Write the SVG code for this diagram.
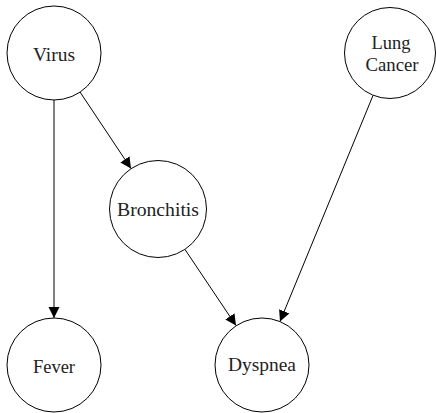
<svg xmlns="http://www.w3.org/2000/svg" width="436" height="413" viewBox="0 0 436 413">
  <style>
    .node circle { fill: #ffffff; stroke: #000000; stroke-width: 1; }
    .node text { font-family: 'Liberation Serif', 'Times New Roman', serif; font-size: 18px; fill: #222222; text-anchor: middle; }
    .edges line { stroke: #000000; stroke-width: 1; fill: none; marker-end: url(#arrow); }
  </style>
  <defs>
    <marker id="arrow" markerUnits="userSpaceOnUse" markerWidth="12" markerHeight="12" refX="11" refY="6" orient="auto">
      <path d="M0,0.5 L11,6 L0,11.5 Z" fill="#000000"/>
    </marker>
  </defs>

  <!-- directed edges between the nodes -->
  <g id="edges" class="edges">
    <line x1="54" y1="100" x2="54" y2="318"/>
    <line x1="80" y1="92" x2="131" y2="168.5"/>
    <line x1="185" y1="249.5" x2="236" y2="325.5"/>
    <line x1="373" y1="95.5" x2="280" y2="321.5"/>
  </g>

  <g id="virus" class="node">
    <circle cx="54" cy="53" r="47"/>
    <text x="54" y="60.5" textLength="42" lengthAdjust="spacingAndGlyphs">Virus</text>
  </g>

  <g id="lung-cancer" class="node">
    <circle cx="390" cy="53" r="45.5"/>
    <text x="391" y="49" textLength="39" lengthAdjust="spacingAndGlyphs">Lung</text>
    <text x="392" y="70.5" textLength="53" lengthAdjust="spacingAndGlyphs">Cancer</text>
  </g>

  <g id="bronchitis" class="node">
    <circle cx="158" cy="209" r="48.5"/>
    <text x="158" y="216" textLength="82" lengthAdjust="spacingAndGlyphs">Bronchitis</text>
  </g>

  <g id="fever" class="node">
    <circle cx="54" cy="365" r="47"/>
    <text x="54" y="372.5" textLength="42" lengthAdjust="spacingAndGlyphs">Fever</text>
  </g>

  <g id="dyspnea" class="node">
    <circle cx="262" cy="365" r="47"/>
    <text x="262" y="371" textLength="68" lengthAdjust="spacingAndGlyphs">Dyspnea</text>
  </g>
</svg>
